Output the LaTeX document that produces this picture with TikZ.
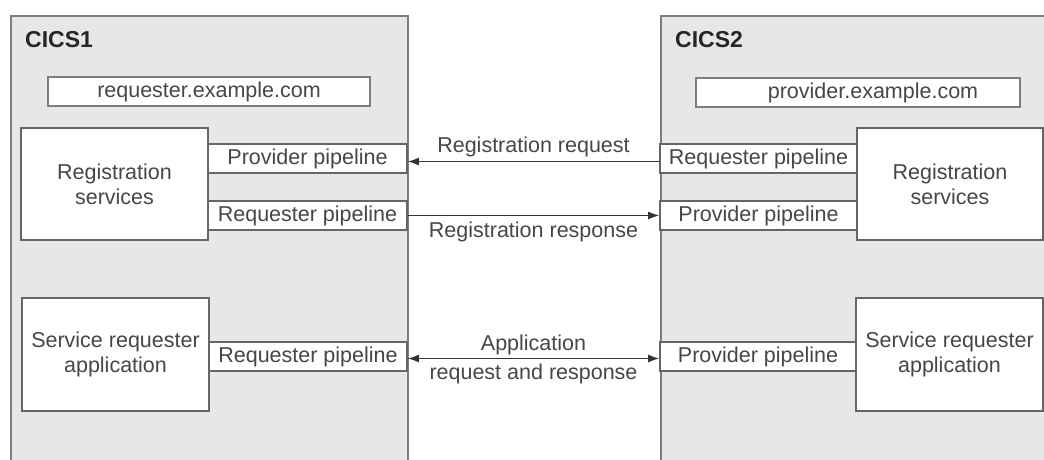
\documentclass[tikz,border=0pt]{standalone}
\usepackage{fontspec}
\setmainfont{Liberation Sans}
\usetikzlibrary{arrows.meta}
\definecolor{cicsgray}{RGB}{230,231,233}
\definecolor{edgegray}{RGB}{125,125,125}
\definecolor{textgray}{RGB}{70,70,70}

\begin{document}
\begin{tikzpicture}[x=1pt,y=-1pt,
        region/.style={draw=edgegray,fill=cicsgray,line width=2pt,rectangle,anchor=north west,inner sep=0pt},
        title/.style={anchor=west,inner sep=0pt,text=black!85,font=\fontsize{23}{27}\selectfont\bfseries},
        host/.style={draw=edgegray,fill=white,line width=1.6pt,rectangle,minimum height=29pt,inner sep=0pt,text=textgray,font=\fontsize{21.5}{25}\selectfont},
        comp/.style={draw=black!60,fill=white,line width=2pt,rectangle,minimum width=187pt,inner sep=0pt,align=center,text=textgray,font=\fontsize{21.5}{25}\selectfont},
        pipe/.style={draw=black!60,fill=white,line width=1.6pt,rectangle,minimum height=29pt,inner sep=0pt,text=textgray,font=\fontsize{21.5}{25}\selectfont},
        flow/.style={draw=black!80,line width=1.5pt,-{Latex[length=11pt,width=8pt]}},
        flowlabel/.style={text=textgray,font=\fontsize{21.5}{25}\selectfont,inner sep=0pt}
      ]
      \clip (0,0) rectangle (1044,460);
      % the two CICS regions
      \node[region,minimum width=397pt,minimum height=480pt] (cics1) at (10,15) {};
      \node[region,minimum width=420pt,minimum height=480pt] (cics2) at (660,15) {};
      \node[title] (name1) at (25,40) {CICS1};
      \node[title] (name2) at (675,40) {CICS2};
      \node[host,minimum width=322pt] (host1) at (209,91.5) {requester.example.com};
      \node[host,minimum width=324pt] (host2) at (858,92.5) {\hspace*{30pt}provider.example.com};

      % CICS1
      \node[comp,minimum height=112pt] (reg1) at (114.5,184) {Registration\\services};
      \node[pipe,minimum width=199pt] (ppipe1) at (307.5,158.5) {Provider pipeline};
      \node[pipe,minimum width=199pt] (rpipe1) at (307.5,215.5) {Requester pipeline};
      \node[comp,minimum height=113pt] (app1) at (115.5,354.5) {Service requester\\application};
      \node[pipe,minimum width=198pt] (apipe1) at (308,356.5) {Requester pipeline};

      % CICS2
      \node[comp,minimum height=112pt,minimum width=186pt] (reg2) at (950,184) {Registration\\services};
      \node[pipe,minimum width=197pt] (rpipe2) at (758.5,158.5) {Requester pipeline};
      \node[pipe,minimum width=197pt] (ppipe2) at (758.5,215.5) {Provider pipeline};
      \node[comp,minimum height=113pt] (app2) at (949.5,354.5) {Service requester\\application};
      \node[pipe,minimum width=196pt] (apipe2) at (758,356.5) {Provider pipeline};

      % flows between the regions
      \draw[flow] ([yshift=-3pt]rpipe2.west) -- ([yshift=-3pt]ppipe1.east)
        node[flowlabel,midway,above=4pt] {Registration request};
      \draw[flow] (rpipe1.east) -- (ppipe2.west)
        node[flowlabel,midway,below=6pt] {Registration response};
      \draw[flow,{Latex[length=11pt,width=8pt]}-{Latex[length=11pt,width=8pt]}] ([yshift=-2pt]apipe1.east) -- ([yshift=-2pt]apipe2.west)
        node[flowlabel,midway,above=3pt] {Application}
        node[flowlabel,midway,below=5pt] {request and response};
    \end{tikzpicture}
\end{document}
